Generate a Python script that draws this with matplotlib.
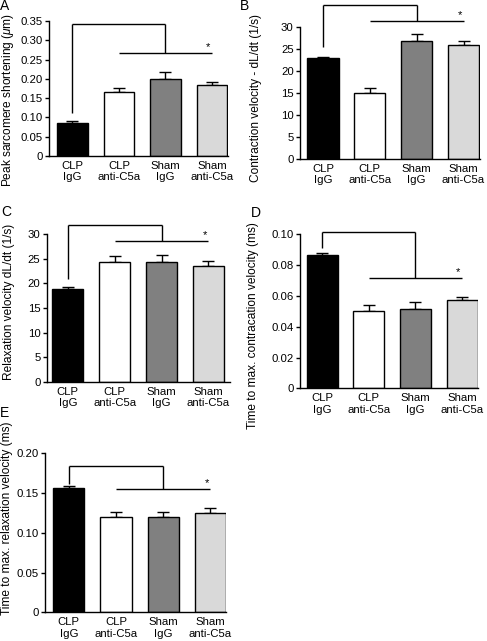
import matplotlib
matplotlib.use('Agg')
import matplotlib.pyplot as plt

plt.rcParams['font.family'] = ['Liberation Sans', 'DejaVu Sans']
plt.rcParams['mathtext.fontset'] = 'custom'
plt.rcParams['mathtext.it'] = 'Liberation Sans:italic'
plt.rcParams['mathtext.rm'] = 'Liberation Sans'

W, H = 487, 641
FS = 8.2
LFS = 8.6

categories = ['CLP\nIgG', 'CLP\nanti-C5a', 'Sham\nIgG', 'Sham\nanti-C5a']
bar_colors = ['black', 'white', '#808080', '#d9d9d9']

# Panel A
peak_short = [0.086, 0.166, 0.200, 0.183]
peak_short_err = [0.006, 0.011, 0.017, 0.009]
peak_ticks = [0, 0.05, 0.10, 0.15, 0.20, 0.25, 0.30, 0.35]
peak_ticklabels = ['0', '0.05', '0.10', '0.15', '0.20', '0.25', '0.30', '0.35']
# Panel B
contr_vel = [22.8, 15.0, 26.8, 25.8]
contr_vel_err = [0.4, 1.1, 1.6, 0.9]
contr_ticks = [0, 5, 10, 15, 20, 25, 30]
contr_ticklabels = ['0', '5', '10', '15', '20', '25', '30']
# Panel C
relax_vel = [18.8, 24.4, 24.4, 23.6]
relax_vel_err = [0.4, 1.1, 1.35, 0.9]
relax_ticks = [0, 5, 10, 15, 20, 25, 30]
relax_ticklabels = ['0', '5', '10', '15', '20', '25', '30']
# Panel D
t_contr = [0.0864, 0.0505, 0.0515, 0.0575]
t_contr_err = [0.0013, 0.0035, 0.0043, 0.0021]
t_contr_ticks = [0, 0.02, 0.04, 0.06, 0.08, 0.10]
t_contr_ticklabels = ['0', '0.02', '0.04', '0.06', '0.08', '0.10']
# Panel E
t_relax = [0.156, 0.1195, 0.120, 0.1245]
t_relax_err = [0.003, 0.0065, 0.006, 0.0065]
t_relax_ticks = [0, 0.05, 0.10, 0.15, 0.20]
t_relax_ticklabels = ['0', '0.05', '0.10', '0.15', '0.20']

# significance brackets: (start above bar 1, top line, lower line)
brackets = {
    'A': (0.111, 0.342, 0.268),
    'B': (25.5, 34.9, 31.4),
    'C': (21.0, 31.9, 28.6),
    'D': (0.0909, 0.1015, 0.0718),
    'E': (0.162, 0.184, 0.155),
}

panels = [
    # letter, values, errs, ticks, ticklabels, ylabel, rect px (left,right,top,bottom), xlim, label px, letter px
    ('A', peak_short, peak_short_err, peak_ticks, peak_ticklabels,
     'Peak sarcomere shortening ($\\mathit{\\mu}$m)', (49, 228, 21, 156), (-0.505, 3.344), (8, 100), (0, -1)),
    ('B', contr_vel, contr_vel_err, contr_ticks, contr_ticklabels,
     'Contraction velocity - dL/dt (1/s)', (300, 480, 26.7, 158.7), (-0.491, 3.352), (256.5, 98), (240, -1)),
    ('C', relax_vel, relax_vel_err, relax_ticks, relax_ticklabels,
     'Relaxation velocity dL/dt (1/s)', (46.7, 230, 234.3, 381.7), (-0.449, 3.46), (9.5, 302), (1, 205)),
    ('D', t_contr, t_contr_err, t_contr_ticks, t_contr_ticklabels,
     'Time to max. contracation velocity (ms)', (300, 478, 234.3, 388.3), (-0.476, 3.34), (253, 326), (251, 206)),
    ('E', t_relax, t_relax_err, t_relax_ticks, t_relax_ticklabels,
     'Time to max. relaxation velocity (ms)', (45, 226, 453.3, 612.3), (-0.504, 3.33), (7.5, 518), (0, 406)),
]

fig = plt.figure(figsize=(W / 100, H / 100), dpi=100)

for letter, vals, errs, ticks, tlabels, ylabel, rect, xlim, lpos, letpos in panels:
    l, r, t, b = rect
    ax = fig.add_axes([l / W, 1 - b / H, (r - l) / W, (b - t) / H])
    x = list(range(len(categories)))
    ax.bar(x, vals, width=0.665, color=bar_colors, edgecolor='black', linewidth=1.0, zorder=2)
    ax.errorbar(x, vals, yerr=[[0] * 4, errs], fmt='none', ecolor='black',
                elinewidth=1.0, capsize=4.2, capthick=1.0, zorder=1)
    ax.set_xlim(*xlim)
    ax.set_ylim(ticks[0], ticks[-1])
    ax.set_yticks(ticks)
    ax.set_yticklabels(tlabels, fontsize=FS)
    ax.set_xticks(x)
    ax.set_xticklabels(categories, fontsize=FS, linespacing=1.2)
    ax.tick_params(axis='x', length=0, pad=3.5)
    ax.tick_params(axis='y', length=3, width=1.0, pad=1.5, direction='out')
    for s in ['top', 'right']:
        ax.spines[s].set_visible(False)
    for s in ['left', 'bottom']:
        ax.spines[s].set_linewidth(1.0)
    ax.set_ylabel(ylabel, fontsize=LFS, va='center')
    ax.yaxis.set_label_coords(lpos[0] / W, 1 - lpos[1] / H, transform=fig.transFigure)

    low, top, mid = brackets[letter]
    kw = dict(color='black', lw=1.0, clip_on=False, solid_capstyle='butt')
    ax.plot([0, 0], [low, top], **kw)
    ax.plot([0, 2], [top, top], **kw)
    ax.plot([2, 2], [top, mid], **kw)
    ax.plot([1, 3], [mid, mid], **kw)
    ax.annotate('*', xy=(2.92, mid), xytext=(0, 0.5), textcoords='offset points',
                ha='center', va='bottom', fontsize=FS, annotation_clip=False)

    fig.text(letpos[0] / W, 1 - letpos[1] / H, letter, fontsize=10,
             ha='left', va='top')

fig.savefig('out.png', dpi=100)
